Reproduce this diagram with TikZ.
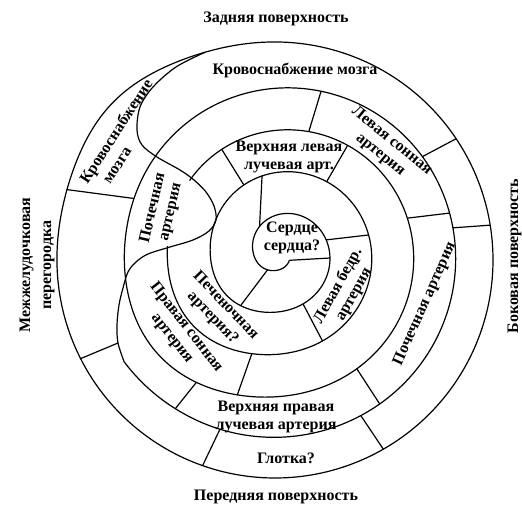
\documentclass[tikz,border=0pt]{standalone}
\usepackage{fontspec}
\setmainfont{Liberation Serif}
\begin{document}
\begin{tikzpicture}[x=1pt,y=-1pt,line width=1.2pt,
  declare function={cr(\a)=0.009*max(0,min(\a,(1560-\a)*4.2))*exp(-((mod(\a,360)-140)/35)^2);
                    sr(\a)=6.5+0.1167*\a+cr(\a); sx(\a)=281+sr(\a)*cos(\a); sy(\a)=252+sr(\a)*sin(\a);
                    orr(\a)=218+8*exp(-((\a-224)/20)^2);
                    ox(\a)=275+orr(\a)*cos(\a); oy(\a)=260+orr(\a)*sin(\a);},
  lbl/.style={font=\fontsize{16}{18}\selectfont\bfseries,inner sep=0pt,align=center}]
\useasboundingbox (0,0) rectangle (522,505);
% outer boundary
\draw plot[domain=0:360,samples=361] ({ox(\x)},{oy(\x)}) -- cycle;
% spiral
\draw plot[domain=45:903,samples=500] ({sx(\x)},{sy(\x)});
\draw plot[domain=938:1585,samples=400] ({sx(\x)},{sy(\x)});
% S-curve
\coordinate (se) at ({sx(1585)},{sy(1585)});
\coordinate (sc17) at (118,343);
\coordinate (stop) at ({ox(251.4)},{oy(251.4)});
\draw plot[smooth,tension=0.55] coordinates {(se) (sc17) (117,325) (119,305) (123,288) (128,272) (136,262) (148,254) (170,247) (193,240) (209,231) (216,220) (214,206) (206,192) (194,180) (180,170) (157,157) (142,145) (137,130) (140,107) (153,87) (176,67) (stop)};
% separators
\foreach \n/\a/\b in {r1/45/367, r2/127/487, r3/230/616, r4/345/709, r5/427/785, r6/601/960, r7/663/1022, r8/1003/1364, r9/1065/1427, r10/826/1187, r13/1137/1497, r16/1203/1564}{
  \coordinate (\n a) at ({sx(\a)},{sy(\a)});
  \coordinate (\n b) at ({sx(\b)},{sy(\b)});
  \draw (\n a) -- (\n b);
}
\foreach \n/\a/\b in {r11/1406/326.2, r12/1432/350.8, r14/1504/60.2, r15/1549/109.4, r18/1280/198.7}{
  \coordinate (\n a) at ({sx(\a)},{sy(\a)});
  \coordinate (\n b) at ({ox(\b)},{oy(\b)});
  \draw (\n a) -- (\n b);
}
\coordinate (r17b) at ({ox(153.1)},{oy(153.1)});
\draw (sc17) -- (r17b);
% labels
\node[lbl] (zad) at (276,19) {Задняя поверхность};
\node[lbl] (per) at (276,497) {Передняя поверхность};
\node[lbl,rotate=90] (bok) at (514.5,256) {Боковая поверхность};
\node[lbl,rotate=90,font=\fontsize{16}{21}\selectfont\bfseries] (mzh) at (37,265) {Межжелудочковая\\перегородка};
\node[lbl] (km1) at (295,70) {Кровоснабжение мозга};
\node[lbl,rotate=57] (km2a) at (117,132) {Кровоснабжение};
\node[lbl,rotate=57] (km2b) at (118,166) {мозга};
\node[lbl,rotate=-39] (lsa) at (386,148) {Левая сонная\\артерия};
\node[lbl] (vla) at (289,157) {Верхняя левая\\лучевая арт.};
\node[lbl,rotate=77] (pa1) at (162,210) {Почечная\\артерия};
\node[lbl] (ss) at (292,238) {Сердце\\сердца?};
\node[lbl,rotate=61] (lba) at (346,290) {Левая бедр.\\артерия};
\node[lbl,rotate=66] (pa2) at (425,304) {Почечная артерия};
\node[lbl,rotate=-46] (pea) at (219,312) {Печеночная\\артерия?};
\node[lbl,rotate=-52] (psa) at (179,333) {Правая сонная\\артерия};
\node[lbl] (vpa) at (276,417) {Верхняя правая\\лучевая артерия};
\node[lbl] (gl) at (286,458) {Глотка?};
\end{tikzpicture}
\end{document}
